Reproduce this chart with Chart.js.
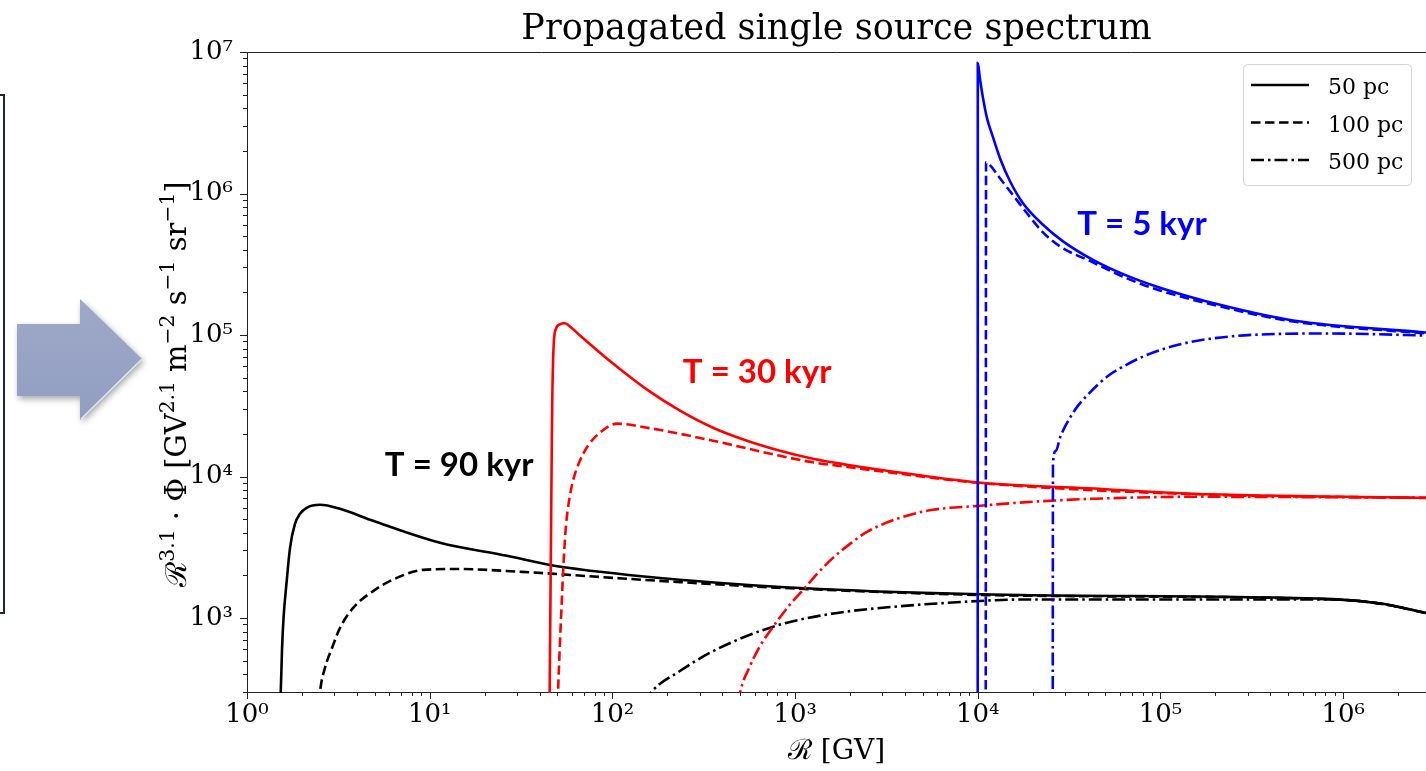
<!DOCTYPE html>
<html>
<head>
<meta charset="utf-8">
<script src="https://cdn.jsdelivr.net/npm/chart.js@4.4.1/dist/chart.umd.min.js"></script>
<style>
  html, body { margin: 0; padding: 0; background: #fff; }
  #wrap { width: 1426px; height: 771px; }
</style>
</head>
<body>
<div id="wrap"><canvas id="spectrumChart" width="1426" height="771"></canvas></div>
<script>
// Rigidity R [GV] and R^3.1 * flux
// T = 90 kyr (black)
const r90_50 = [1.50, 1.53, 1.555, 1.585, 1.65, 1.72, 1.83, 1.95, 2.12, 2.51, 3.23, 4.9, 11.4, 26.5, 45.5, 85.5, 182, 1064, 17000, 880000, 1650000, 2840000];
const f90_50 = [200, 300, 600, 1000, 1830, 3130, 4620, 5450, 6010, 6310, 5910, 4860, 3400, 2750, 2370, 2120, 1920, 1630, 1455, 1360, 1260, 1085];
const r90_100 = [2.45, 2.51, 2.67, 2.92, 3.23, 3.8, 4.9, 6.6, 9.2, 14.1, 32, 85.5, 182, 1064, 17000, 880000, 1650000, 2840000];
const f90_100 = [200, 300, 443, 614, 851, 1175, 1550, 1920, 2190, 2220, 2120, 1950, 1830, 1610, 1440, 1355, 1255, 1085];
const r90_500 = [150, 165, 234, 355, 776, 1553, 2915, 10280, 17000, 880000, 1650000, 2840000];
const f90_500 = [250, 304, 422, 583, 877, 1067, 1177, 1320, 1350, 1350, 1255, 1085];

// T = 30 kyr (red)
const r30_50 = [45.3, 46.0, 46.8, 47.6, 49.0, 51.5, 55, 59, 66.5, 100.8, 154.7, 234.4, 355.3, 545.3, 826.7, 1253, 1923, 2915, 10280, 40000, 150000, 2840000];
const f30_50 = [250, 2500, 30000, 80000, 110000, 119000, 121000, 114000, 99200, 62800, 41100, 29200, 22130, 17910, 15215, 13360, 12110, 11160, 9040, 8260, 7550, 7080];
const r30_100 = [50.0, 50.4, 51.7, 53.0, 54.3, 55.7, 57.9, 60.9, 65.7, 73.5, 85.5, 106, 154.7, 355, 826.7, 1253, 1923, 2915, 10280, 150000, 2840000];
const f30_100 = [200, 294, 688, 1432, 2748, 4480, 6735, 9330, 12510, 16500, 20400, 23630, 22130, 17910, 14000, 12600, 11700, 10900, 9000, 7500, 7050];
const r30_500 = [490, 499.4, 566.4, 642.7, 756.8, 914.4, 1105, 1335, 1612, 1998, 2475, 3752, 5685, 10280, 16390, 42710, 150600, 2840000];
const f30_500 = [250, 294, 457, 633, 864, 1197, 1578, 2083, 2660, 3340, 4060, 5105, 5820, 6210, 6520, 6960, 7190, 7080];

// T = 5 kyr (blue)
const r5_50 = [9990, 10000, 10280, 10680, 11230, 12110, 13230, 15010, 17680, 22740, 29270, 42710, 63930, 99370, 211700, 531300, 2840000];
const f5_50 = [100, 8360000, 6440000, 4725000, 3409000, 2502000, 1777000, 1221000, 853000, 600900, 459000, 339600, 265900, 215900, 163400, 126700, 104200];
const r5_100 = [11050, 11100, 11660, 13230, 15010, 18590, 22740, 28180, 42710, 65560, 99370, 211700, 531300, 2840000];
const f5_100 = [100, 1664000, 1585000, 1282000, 1037000, 725000, 531800, 423200, 326100, 251200, 206500, 159100, 124600, 102500];
const r5_500 = [25700, 25800, 26800, 28180, 30020, 31970, 35360, 39600, 45490, 52920, 63930, 80230, 105800, 150600, 240100, 350400, 815500, 2840000];
const f5_500 = [100, 12510, 15215, 18800, 22500, 26060, 31690, 37300, 44620, 52530, 60830, 70440, 80240, 89950, 97590, 100800, 102500, 99200];

// axis ranges
const xMin = 1, xMax = 2.84e6;
const yMin = 300, yMax = 1e7;

// legend entries and the T labels (placed in data coordinates)
const legendLabels = ['50 pc', '100 pc', '500 pc'];
const ageLabels = ['T = 90 kyr', 'T = 30 kyr', 'T = 5 kyr'];
const ageLabelR = [14.5, 620, 79200];
const ageLabelF = [10100, 46100, 506000];
const ageColors = ['#000000', '#ff0000', '#0000ff'];

const DASH = { solid: [], dashed: [9.5, 4.5], dashdot: [13, 4, 2.5, 4] };
const legendDash = [DASH.solid, DASH.dashed, DASH.dashdot];
const AXIS = '#222';
const SERIF = '"DejaVu Serif", "Liberation Serif", serif';

function pts(rs, fs) {
    return rs.map((r, i) => ({ x: r, y: fs[i] }));
}

function line(label, rs, fs, color, dash) {
    return {
        label: label,
        data: pts(rs, fs),
        borderColor: color,
        borderWidth: 2.6,
        borderDash: dash,
        pointRadius: 0,
        fill: false,
        cubicInterpolationMode: 'monotone',
        clip: 1
    };
}

const SUP = { '0': '⁰', '1': '¹', '2': '²', '3': '³', '4': '⁴', '5': '⁵', '6': '⁶', '7': '⁷', '8': '⁸', '9': '⁹' };

// 1..9 for d * 10^n ticks, 0 otherwise
function mantissa(v) {
    const e = Math.floor(Math.log10(v) + 1e-9);
    const m = v / Math.pow(10, e);
    return Math.abs(m - Math.round(m)) < 1e-6 ? Math.round(m) : 0;
}

function powLabel(v) {
    if (mantissa(v) !== 1) return '';
    const e = Math.round(Math.log10(v));
    return '10' + String(e).split('').map(c => SUP[c]).join('');
}

// text with superscripts: parts = [[text, isSup], ...]
function richWidth(ctx, parts, size) {
    let w = 0;
    for (const [t, sup] of parts) {
        ctx.font = (sup ? size * 0.7 : size) + 'px ' + SERIF;
        w += ctx.measureText(t).width;
    }
    return w;
}

function drawRich(ctx, parts, size, x, y) {
    for (const [t, sup] of parts) {
        ctx.font = (sup ? size * 0.7 : size) + 'px ' + SERIF;
        ctx.fillText(t, x, sup ? y - size * 0.42 : y);
        x += ctx.measureText(t).width;
    }
}

const yTitle = [['ℛ', 0], ['3.1', 1], [' · Φ [', 0], ['GV', 0], ['2.1', 1], [' m', 0], ['−2', 1],
    [' s', 0], ['−1', 1], [' sr', 0], ['−1', 1], [']', 0]];
const xTitle = [['ℛ [GV]', 0]];

const decor = {
    id: 'decor',
    beforeDraw(chart) {
        const ctx = chart.ctx;
        ctx.save();
        // edge of the slide box on the left
        ctx.strokeStyle = '#1c2440';
        ctx.lineWidth = 2;
        ctx.strokeRect(-10, 95, 14, 518);
        // arrow
        ctx.shadowColor = 'rgba(0,0,0,0.35)';
        ctx.shadowBlur = 6;
        ctx.shadowOffsetX = 2;
        ctx.shadowOffsetY = 3;
        const g = ctx.createLinearGradient(0, 299, 0, 420);
        g.addColorStop(0, '#9ea9c9');
        g.addColorStop(1, '#929ec0');
        ctx.fillStyle = g;
        ctx.beginPath();
        ctx.moveTo(17, 324); ctx.lineTo(80, 324); ctx.lineTo(80, 299); ctx.lineTo(142, 359);
        ctx.lineTo(80, 420); ctx.lineTo(80, 396); ctx.lineTo(17, 396); ctx.closePath();
        ctx.fill();
        ctx.shadowColor = 'transparent';
        ctx.strokeStyle = '#dfe5f4';
        ctx.lineWidth = 1.5;
        ctx.beginPath(); ctx.moveTo(142, 359); ctx.lineTo(81, 419); ctx.stroke();
        ctx.restore();
    },
    afterDraw(chart) {
        const { ctx, chartArea: a, scales: { x, y } } = chart;
        ctx.save();
        ctx.strokeStyle = AXIS;
        ctx.lineWidth = 1;
        // top spine
        ctx.beginPath(); ctx.moveTo(a.left, a.top + 0.5); ctx.lineTo(a.right, a.top + 0.5); ctx.stroke();
        // tick marks, major and minor
        ctx.beginPath();
        for (const t of x.ticks) {
            const m = mantissa(t.value);
            if (!m) continue;
            const px = Math.round(x.getPixelForValue(t.value)) + 0.5;
            ctx.moveTo(px, a.bottom); ctx.lineTo(px, a.bottom + (m === 1 ? 7 : 4));
        }
        for (const t of y.ticks) {
            const m = mantissa(t.value);
            if (!m) continue;
            const py = Math.round(y.getPixelForValue(t.value)) + 0.5;
            ctx.moveTo(a.left, py); ctx.lineTo(a.left - (m === 1 ? 7 : 4), py);
        }
        ctx.stroke();

        // title
        ctx.fillStyle = '#000';
        ctx.textAlign = 'center';
        ctx.textBaseline = 'alphabetic';
        ctx.font = '35px ' + SERIF;
        ctx.fillText('Propagated single source spectrum', (a.left + a.right) / 2, 39);

        // axis titles
        ctx.textAlign = 'left';
        let w = richWidth(ctx, xTitle, 28);
        drawRich(ctx, xTitle, 28, (a.left + a.right) / 2 - w / 2, 759);
        ctx.save();
        ctx.translate(186, (a.top + a.bottom) / 2 + 12);
        ctx.rotate(-Math.PI / 2);
        w = richWidth(ctx, yTitle, 29);
        drawRich(ctx, yTitle, 29, -w / 2, 0);
        ctx.restore();

        // T labels
        ctx.textAlign = 'center';
        ctx.font = 'bold 33px Lato, "Open Sans", sans-serif';
        ageLabels.forEach((txt, i) => {
            ctx.fillStyle = ageColors[i];
            ctx.fillText(txt, x.getPixelForValue(ageLabelR[i]), y.getPixelForValue(ageLabelF[i]));
        });

        // legend box
        const lx = a.right - 183, ly = a.top + 12.5;
        ctx.beginPath();
        ctx.roundRect(lx + 0.5, ly, 168, 121, 4);
        ctx.fillStyle = 'rgba(255,255,255,0.8)';
        ctx.fill();
        ctx.strokeStyle = '#d3d3d3';
        ctx.lineWidth = 1;
        ctx.stroke();
        ctx.textAlign = 'left';
        ctx.font = '22px ' + SERIF;
        legendLabels.forEach((txt, i) => {
            const yy = ly + 20.5 + i * 37.5;
            ctx.strokeStyle = '#000';
            ctx.lineWidth = 2.6;
            ctx.setLineDash(legendDash[i]);
            ctx.beginPath(); ctx.moveTo(lx + 8, yy); ctx.lineTo(lx + 66, yy); ctx.stroke();
            ctx.setLineDash([]);
            ctx.fillStyle = '#000';
            ctx.fillText(txt, lx + 85, yy + 9);
        });
        ctx.restore();
    }
};

const ctx = document.getElementById('spectrumChart').getContext('2d');
new Chart(ctx, {
    type: 'line',
    data: {
        datasets: [
            line('5 kyr, 50 pc', r5_50, f5_50, '#0000ff', DASH.solid),
            line('5 kyr, 100 pc', r5_100, f5_100, '#0000ff', DASH.dashed),
            line('5 kyr, 500 pc', r5_500, f5_500, '#0000ff', DASH.dashdot),
            line('30 kyr, 50 pc', r30_50, f30_50, '#ff0000', DASH.solid),
            line('30 kyr, 100 pc', r30_100, f30_100, '#ff0000', DASH.dashed),
            line('30 kyr, 500 pc', r30_500, f30_500, '#ff0000', DASH.dashdot),
            line('90 kyr, 50 pc', r90_50, f90_50, '#000000', DASH.solid),
            line('90 kyr, 100 pc', r90_100, f90_100, '#000000', DASH.dashed),
            line('90 kyr, 500 pc', r90_500, f90_500, '#000000', DASH.dashdot)
        ]
    },
    options: {
        responsive: false,
        animation: false,
        devicePixelRatio: 1,
        layout: { padding: { top: 52, right: 0, left: 0, bottom: 0 } },
        plugins: {
            legend: { display: false },
            title: { display: false },
            tooltip: { enabled: false }
        },
        scales: {
            x: {
                type: 'logarithmic',
                min: xMin,
                max: xMax,
                grid: { display: false, drawTicks: false },
                border: { display: true, color: AXIS, width: 1 },
                ticks: {
                    autoSkip: false,
                    maxRotation: 0,
                    padding: 8,
                    color: '#000',
                    font: { family: 'DejaVu Serif', size: 26 },
                    callback: v => powLabel(v)
                },
                afterFit: s => { s.height = 79; s.paddingRight = 0; }
            },
            y: {
                type: 'logarithmic',
                min: yMin,
                max: yMax,
                grid: { display: false, drawTicks: false },
                border: { display: true, color: AXIS, width: 1 },
                ticks: {
                    autoSkip: false,
                    padding: 14,
                    color: '#000',
                    font: { family: 'DejaVu Serif', size: 26 },
                    callback: v => powLabel(v)
                },
                afterFit: s => { s.width = 247; }
            }
        }
    },
    plugins: [decor]
});
</script>
</body>
</html>
